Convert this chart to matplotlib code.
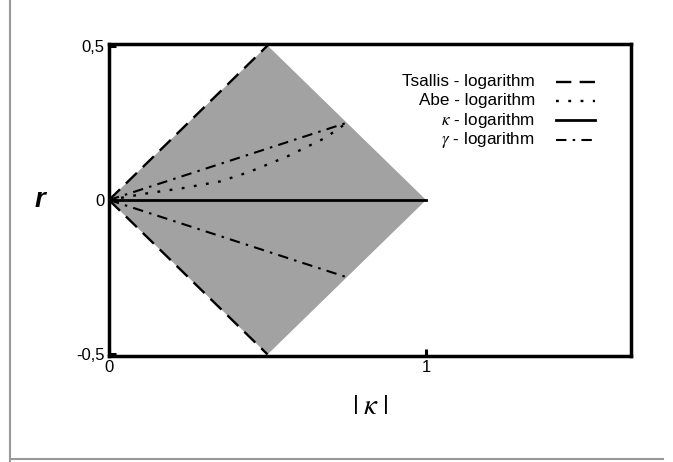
import matplotlib
matplotlib.use("Agg")
import matplotlib.pyplot as plt
from matplotlib.lines import Line2D

plt.rcParams['font.family'] = ['Liberation Sans', 'DejaVu Sans']
plt.rcParams['mathtext.fontset'] = 'stix'

# Data
region_k = [0, 0.5, 1.0, 0.5]
region_r = [0, 0.5, 0.0, -0.5]

tsallis_k = [0, 0.5]
tsallis_r = [0, 0.5]

abe_k = [0, 0.11, 0.23, 0.35, 0.44, 0.56, 0.68, 0.75]
abe_r = [0, 0.02, 0.038, 0.06, 0.09, 0.14, 0.20, 0.25]

kappa_k = [0, 1.0]
kappa_r = [0, 0.0]

gamma_k = [0, 0.75]
gamma_r = [0, 0.25]

xticks = [0, 1]
xtick_labels = ['0', '1']
yticks = [-0.5, 0, 0.5]
ytick_labels = ['-0,5', '0', '0,5']

fig = plt.figure(figsize=(6.73, 4.62), dpi=100)
ax = fig.add_axes([109/673, 1-356/462, (631-109)/673, (356-44)/462])

ax.fill(region_k, region_r, color='#a2a2a2', lw=0, zorder=1)

dash = (0, (6.5, 3.5))
dashdot = (0, (5, 3, 1.2, 3))
dot = (0, (1.2, 4))

ax.plot(tsallis_k, tsallis_r, color='black', lw=1.7, linestyle=dash, zorder=3)
ax.plot(tsallis_k, [-v for v in tsallis_r], color='black', lw=1.7, linestyle=dash, zorder=3)
ax.plot(abe_k, abe_r, color='black', lw=1.7, linestyle=dot, zorder=3)
ax.plot(kappa_k, kappa_r, color='black', lw=2.0, linestyle='-', zorder=3)
ax.plot(gamma_k, gamma_r, color='black', lw=1.5, linestyle=dashdot, zorder=3)
ax.plot(gamma_k, [-v for v in gamma_r], color='black', lw=1.5, linestyle=dashdot, zorder=3)

ax.set_xlim(0, (631-110)/316.5)
ax.set_ylim(-0.505, 0.505)

ax.set_xticks(xticks)
ax.set_xticklabels(xtick_labels)
ax.set_yticks(yticks)
ax.set_yticklabels(ytick_labels)
ax.tick_params(direction='in', length=5, width=2.2, labelsize=12, pad=3, colors='black')
for s in ax.spines.values():
    s.set_linewidth(2.5)

ax.set_ylabel('r', fontsize=20, style='italic', fontweight='bold', rotation=0, labelpad=26, va='center')
ax.set_xlabel(r'$|\;\kappa\;|$', fontsize=21, labelpad=12)

# Legend (manual, right-aligned texts with samples to the right)
labels = ['Tsallis - logarithm', 'Abe - logarithm', r'$\kappa$ - logarithm', r'$\gamma$ - logarithm']
styles = [(dash, 1.7), (dot, 1.7), ('-', 2.0), (dashdot, 1.5)]
ys = [81.5, 100.5, 120, 139.5]
for lab, (ls, lw), ypix in zip(labels, styles, ys):
    yf = 1 - (ypix - 44) / (356 - 44)
    ax.text((535 - 109) / 522, yf, lab, transform=ax.transAxes, ha='right', va='center', fontsize=12.3)
    ax.add_line(Line2D([(556 - 109) / 522, (595 - 109) / 522], [yf, yf], transform=ax.transAxes,
                       color='black', lw=lw, linestyle=ls))

# Figure border lines (gray)
fig.add_artist(Line2D([10/673, 10/673], [0, 1], transform=fig.transFigure, color='#999999', lw=1.5))
fig.add_artist(Line2D([10/673, 663/673], [1-459/462, 1-459/462], transform=fig.transFigure, color='#999999', lw=1.5))

fig.savefig('out.png', dpi=100)
